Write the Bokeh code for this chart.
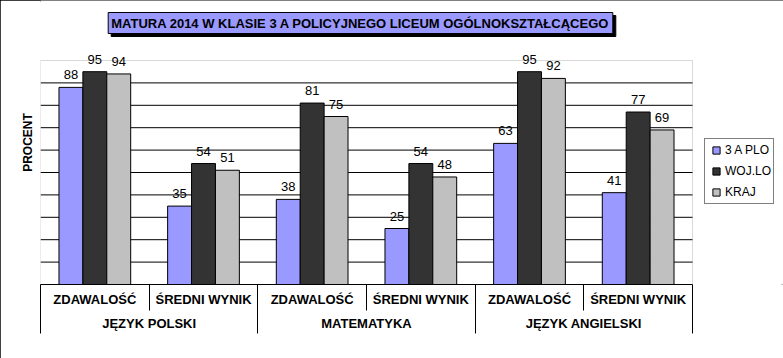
from bokeh.plotting import figure
from bokeh.models import (Range1d, LinearAxis, FixedTicker, ColumnDataSource,
                          LabelSet, Label, Legend, LegendItem, BoxAnnotation)
from bokeh.transform import dodge
from bokeh.core.properties import value
from bokeh.embed import file_html
from bokeh.resources import INLINE

# ---- data ----
title_text = "MATURA 2014 W KLASIE 3 A POLICYJNEGO LICEUM OGÓLNOKSZTAŁCĄCEGO"
groups = ["JĘZYK POLSKI", "MATEMATYKA", "JĘZYK ANGIELSKI"]
subcats = ["ZDAWALOŚĆ", "ŚREDNI WYNIK"]
series_names = ["3 A PLO", "WOJ.LO", "KRAJ"]
plo = [88, 35, 38, 25, 63, 41]
woj = [95, 54, 81, 54, 95, 77]
kraj = [94, 51, 75, 48, 92, 69]
colors = ["#9999FF", "#333333", "#C0C0C0"]
y_label = "PROCENT"
y_max = 100
grid_ticks = [10, 20, 30, 40, 50, 60, 70, 80, 90]

FONT = "Liberation Sans"

factors = [(g, s) for g in groups for s in subcats]
n = len(factors)
centers = [i + 0.5 for i in range(n)]
bounds = list(range(n + 1))

# geometry (pixels)
W, H = 783, 358
LEFT, BOTTOM = 40, 74
PLOT_W, PLOT_H = 652, 224          # plot area inside the frame
frame_w, frame_h = W - LEFT, H - BOTTOM

p = figure(width=W, height=H,
           x_range=Range1d(0, n * frame_w / PLOT_W),
           y_range=Range1d(0, y_max * frame_h / PLOT_H),
           x_axis_type=None,
           output_backend="svg", toolbar_location=None,
           min_border_left=LEFT, min_border_right=0, min_border_top=0, min_border_bottom=BOTTOM)
p.outline_line_color = None
p.background_fill_color = "white"
p.border_fill_color = "white"
p.ygrid.visible = False
p.styles = {"outline": "2px solid black", "outline-offset": "-2px"}

# y axis: label only
p.yaxis.ticker = FixedTicker(ticks=[])
p.yaxis.bounds = (0, y_max)
p.yaxis.axis_line_color = None
p.yaxis.major_tick_line_color = None
p.yaxis.minor_tick_line_color = None
p.yaxis.major_tick_out = 0
p.yaxis.axis_label = y_label
p.yaxis.axis_label_text_font = FONT
p.yaxis.axis_label_text_font_style = "bold"
p.yaxis.axis_label_text_font_size = "12px"
p.yaxis.axis_label_text_color = "black"
p.yaxis.axis_label_standoff = 6

# plot area border + gridlines
p.add_layout(BoxAnnotation(left=0, right=n, bottom=0, top=y_max, fill_color=None,
                           line_color="#808080", line_width=1, level="underlay"))
p.segment(x0=[0] * len(grid_ticks), x1=[n] * len(grid_ticks), y0=grid_ticks, y1=grid_ticks,
          line_color="black", line_width=1)

src = ColumnDataSource(dict(
    x=centers, plo=plo, woj=woj, kraj=kraj,
    plo_t=[str(v) for v in plo], woj_t=[str(v) for v in woj], kraj_t=[str(v) for v in kraj],
))

keys = ["plo", "woj", "kraj"]
offsets = [-0.22, 0.0, 0.22]
for key, off, col in zip(keys, offsets, colors):
    p.vbar(x=dodge("x", off), top=key, width=0.22, source=src,
           fill_color=col, line_color="black", line_width=1)
    p.add_layout(LabelSet(x=dodge("x", off), y=key, text=key + "_t",
                          source=src, text_align="center", text_baseline="alphabetic",
                          y_offset=8, text_font=value(FONT), text_font_size="13px",
                          text_color="black"))

# category axes
ax1 = LinearAxis(bounds=(0, n), ticker=FixedTicker(ticks=centers),
                 major_label_overrides={c: s for c, (g, s) in zip(centers, factors)},
                 axis_line_color="black", axis_line_width=1,
                 major_tick_in=0, major_tick_out=0, major_tick_line_color=None,
                 minor_tick_line_color=None,
                 major_label_standoff=7,
                 major_label_text_font=FONT, major_label_text_font_style="bold",
                 major_label_text_font_size="13px", major_label_text_color="black")
p.add_layout(ax1, "below")

gsize = len(subcats)
gbounds = [i * gsize for i in range(len(groups) + 1)]
gcenters = [(a + b) / 2 for a, b in zip(gbounds[:-1], gbounds[1:])]
inner = [b for b in bounds if b not in gbounds]
ax2 = LinearAxis(bounds=(0, n), ticker=FixedTicker(ticks=gcenters, minor_ticks=inner),
                 major_label_overrides={c: g for c, g in zip(gcenters, groups)},
                 axis_line_color=None,
                 major_tick_in=0, major_tick_out=0, major_tick_line_color=None,
                 minor_tick_in=25, minor_tick_out=1, minor_tick_line_color="black",
                 major_label_standoff=5,
                 major_label_text_font=FONT, major_label_text_font_style="bold",
                 major_label_text_font_size="13px", major_label_text_color="black")
p.add_layout(ax2, "below")

ax3 = LinearAxis(bounds=(0, n), ticker=FixedTicker(ticks=gbounds),
                 major_label_overrides={b: "" for b in gbounds},
                 axis_line_color=None,
                 major_tick_in=49, major_tick_out=0, major_tick_line_color="black",
                 minor_tick_line_color=None, major_label_standoff=0,
                 major_label_text_font_size="0px")
p.add_layout(ax3, "below")

# legend (marker swatches, no visible data)
nan = float("nan")
items = []
for name, col in zip(series_names, colors):
    r = p.scatter(x=[nan], y=[nan], marker="square", size=7, fill_color=col, line_color="black")
    items.append(LegendItem(label=name, renderers=[r]))
legend = Legend(items=items, location=(664, 80), orientation="vertical",
                glyph_width=18, glyph_height=18, label_standoff=-5, spacing=3,
                padding=2, margin=0, label_text_font=FONT, label_text_font_size="12px",
                label_text_color="black", border_line_color="black", border_line_width=1,
                background_fill_color="white", background_fill_alpha=1)
p.add_layout(legend)

# title box with shadow
shadow = Label(x=323, y=258.5, x_units="screen", y_units="screen", text=title_text,
               text_align="center", text_baseline="middle", text_font=FONT,
               text_font_size="13px", text_font_style="bold", text_color="black",
               background_fill_color="black", border_line_color="black", padding=3)
main = Label(x=320, y=261.5, x_units="screen", y_units="screen", text=title_text,
             text_align="center", text_baseline="middle", text_font=FONT,
             text_font_size="13px", text_font_style="bold", text_color="black",
             background_fill_color="#9999FF", border_line_color="black",
             border_line_width=1, padding=3)
p.add_layout(shadow)
p.add_layout(main)

open("out.html", "w").write(file_html(p, INLINE))
